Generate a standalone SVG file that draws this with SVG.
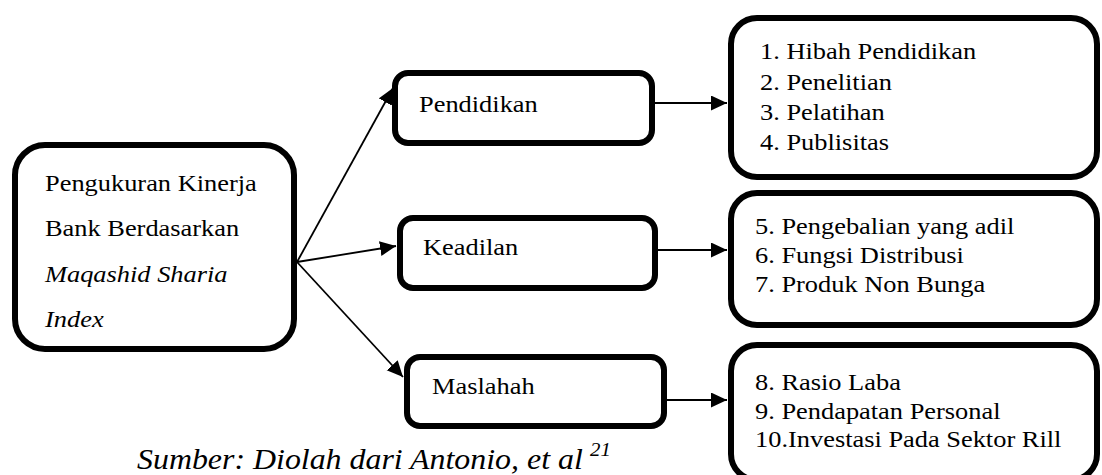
<svg xmlns="http://www.w3.org/2000/svg" width="1102" height="475" viewBox="0 0 1102 475">
  <defs>
    <style>
      .box { fill: #ffffff; stroke: #000000; stroke-width: 6; }
      .conn { stroke: #000000; stroke-width: 1.8; fill: none; }
      .t { font-family: 'Liberation Serif', 'Times New Roman', serif; font-size: 24px; fill: #000000; }
      .it { font-style: italic; }
      .cap { font-family: 'Liberation Serif', 'Times New Roman', serif; font-size: 29px; font-style: italic; fill: #000000; }
      .sup { font-family: 'Liberation Serif', 'Times New Roman', serif; font-size: 19px; font-style: italic; fill: #000000; }
    </style>
    <marker id="arrow" markerUnits="userSpaceOnUse" markerWidth="18" markerHeight="16" refX="16" refY="7.5" orient="auto">
      <path d="M0,0 L16,7.5 L0,15 Z" fill="#000000"/>
    </marker>
  </defs>
  <rect width="1102" height="475" fill="#ffffff"/>

  <g id="connectors">
    <line class="conn" x1="297" y1="262" x2="393" y2="88" marker-end="url(#arrow)"/>
    <line class="conn" x1="297" y1="262" x2="396" y2="246" marker-end="url(#arrow)"/>
    <line class="conn" x1="297" y1="262" x2="403" y2="377" marker-end="url(#arrow)"/>
    <line class="conn" x1="655" y1="103" x2="727" y2="103" marker-end="url(#arrow)"/>
    <line class="conn" x1="658" y1="250" x2="727" y2="250" marker-end="url(#arrow)"/>
    <line class="conn" x1="667" y1="400" x2="727" y2="400" marker-end="url(#arrow)"/>
  </g>

  <g id="node-main">
    <rect class="box" x="15" y="145" width="279" height="204" rx="30" ry="30"/>
    <text class="t" transform="translate(45 191) scale(1.1 1)">Pengukuran Kinerja</text>
    <text class="t" transform="translate(45 236) scale(1.1 1)">Bank Berdasarkan</text>
    <text class="t it" transform="translate(45 282) scale(1.1 1)">Maqashid Sharia</text>
    <text class="t it" transform="translate(45 327) scale(1.1 1)">Index</text>
  </g>

  <g id="node-pendidikan">
    <rect class="box" x="395" y="73" width="257" height="70" rx="13" ry="13"/>
    <text class="t" transform="translate(419 112) scale(1.1 1)">Pendidikan</text>
  </g>

  <g id="node-keadilan">
    <rect class="box" x="400" y="218" width="255" height="70" rx="13" ry="13"/>
    <text class="t" transform="translate(423 255) scale(1.1 1)">Keadilan</text>
  </g>

  <g id="node-maslahah">
    <rect class="box" x="407" y="357" width="257" height="69" rx="13" ry="13"/>
    <text class="t" transform="translate(432 394) scale(1.1 1)">Maslahah</text>
  </g>

  <g id="node-list-pendidikan">
    <rect class="box" x="731" y="18" width="366" height="159" rx="26" ry="26"/>
    <text class="t" transform="translate(760 59) scale(1.1 1)">1. Hibah Pendidikan</text>
    <text class="t" transform="translate(760 90) scale(1.1 1)">2. Penelitian</text>
    <text class="t" transform="translate(760 120) scale(1.1 1)">3. Pelatihan</text>
    <text class="t" transform="translate(760 150) scale(1.1 1)">4. Publisitas</text>
  </g>

  <g id="node-list-keadilan">
    <rect class="box" x="731" y="193" width="366" height="132" rx="26" ry="26"/>
    <text class="t" transform="translate(755 234) scale(1.1 1)">5. Pengebalian yang adil</text>
    <text class="t" transform="translate(755 263) scale(1.1 1)">6. Fungsi Distribusi</text>
    <text class="t" transform="translate(755 292) scale(1.1 1)">7. Produk Non Bunga</text>
  </g>

  <g id="node-list-maslahah">
    <rect class="box" x="731" y="345" width="366" height="135" rx="26" ry="26"/>
    <text class="t" transform="translate(755 390) scale(1.1 1)">8. Rasio Laba</text>
    <text class="t" transform="translate(755 419) scale(1.1 1)">9. Pendapatan Personal</text>
    <text class="t" transform="translate(755 447) scale(1.1 1)">10.Investasi Pada Sektor Rill</text>
  </g>

  <g id="caption">
    <text class="cap" transform="translate(137 469) scale(1.1 1)">Sumber: Diolah dari Antonio, et al</text>
    <text class="sup" transform="translate(590 456) scale(1.1 1)">21</text>
  </g>
</svg>
